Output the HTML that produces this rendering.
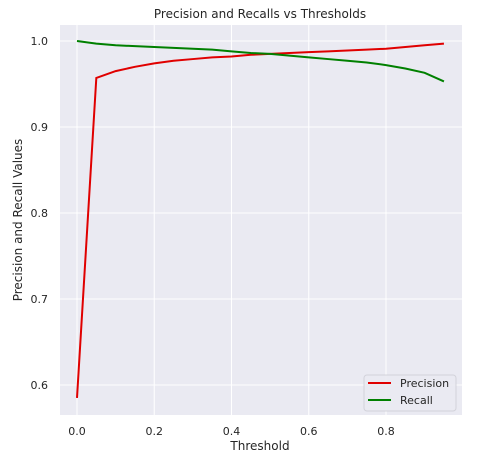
<!DOCTYPE html>
<html><head><meta charset="utf-8"><style>
body{margin:0;background:#fff;width:504px;height:469px;overflow:hidden;font-family:"Liberation Sans","DejaVu Sans",sans-serif;}
svg text{font-family:"DejaVu Sans","Liberation Sans",sans-serif;fill:#262626;}
</style></head><body>
<svg id="chart" width="504" height="469" xmlns="http://www.w3.org/2000/svg">
<rect x="60" y="25" width="402" height="390" fill="#eaeaf2"/>
<g id="grid"></g>
<g id="ticks"></g>
<g id="lines"></g>
<text x="260" y="18" font-size="12" text-anchor="middle">Precision and Recalls vs Thresholds</text>
<text x="260" y="450" font-size="12" text-anchor="middle">Threshold</text>
<text x="22" y="220" font-size="12" text-anchor="middle" transform="rotate(-90 22 220)">Precision and Recall Values</text>
<g>
<rect x="364" y="375" width="92" height="36" rx="3" fill="#eaeaf2" stroke="#d0d0d8" opacity="0.9"/>
<line x1="368" y1="383" x2="391" y2="383" stroke="#e00000" stroke-width="2"/>
<text x="400" y="387" font-size="11">Precision</text>
<line x1="368" y1="400" x2="391" y2="400" stroke="#008000" stroke-width="2"/>
<text x="400" y="404" font-size="11">Recall</text>
</g>
</svg>
<script>
const thresholds=[0,0.05,0.1,0.15,0.2,0.25,0.3,0.35,0.4,0.45,0.5,0.55,0.6,0.65,0.7,0.75,0.8,0.85,0.9,0.95];
const precision=[0.585,0.957,0.965,0.970,0.974,0.977,0.979,0.981,0.982,0.984,0.985,0.986,0.987,0.988,0.989,0.990,0.991,0.993,0.995,0.997];
const recall=[1.0,0.997,0.995,0.994,0.993,0.992,0.991,0.990,0.988,0.986,0.985,0.983,0.981,0.979,0.977,0.975,0.972,0.968,0.963,0.953];
const xTicks=[0,0.2,0.4,0.6,0.8];
const yTicks=[0.6,0.7,0.8,0.9,1.0];
const xLabels=["0.0","0.2","0.4","0.6","0.8"];
const yLabels=["0.6","0.7","0.8","0.9","1.0"];
const NS="http://www.w3.org/2000/svg";
function X(v){return 77+v*386.25;}
function Y(v){return 41+(1-v)*860;}
const grid=document.getElementById('grid'),ticks=document.getElementById('ticks'),lines=document.getElementById('lines');
function mk(tag,attrs,parent){const e=document.createElementNS(NS,tag);for(const k in attrs)e.setAttribute(k,attrs[k]);parent.appendChild(e);return e;}
xTicks.forEach((t,i)=>{
  const l=mk('line',{x1:X(t),x2:X(t),y1:25,y2:415,stroke:'#fff','stroke-width':1},grid);
  
  
  const tx=mk('text',{x:X(t),y:435,'font-size':11,'text-anchor':'middle'},ticks);
  tx.textContent=xLabels[i];
  
  
});
yTicks.forEach((t,i)=>{
  const l=mk('line',{x1:60,x2:462,y1:Y(t),y2:Y(t),stroke:'#fff','stroke-width':1},grid);
  
  
  const tx=mk('text',{x:48,y:Y(t)+4,'font-size':11,'text-anchor':'end'},ticks);
  tx.textContent=yLabels[i];
  
  
});
function series(vals,color,name){
  const p=mk('polyline',{points:thresholds.map((t,i)=>X(t)+','+Y(vals[i])).join(' '),fill:'none',stroke:color,'stroke-width':2},lines);
  
  
}
series(precision,'#e00000','precision-line');
series(recall,'#008000','recall-line');
</script>
</body></html>
